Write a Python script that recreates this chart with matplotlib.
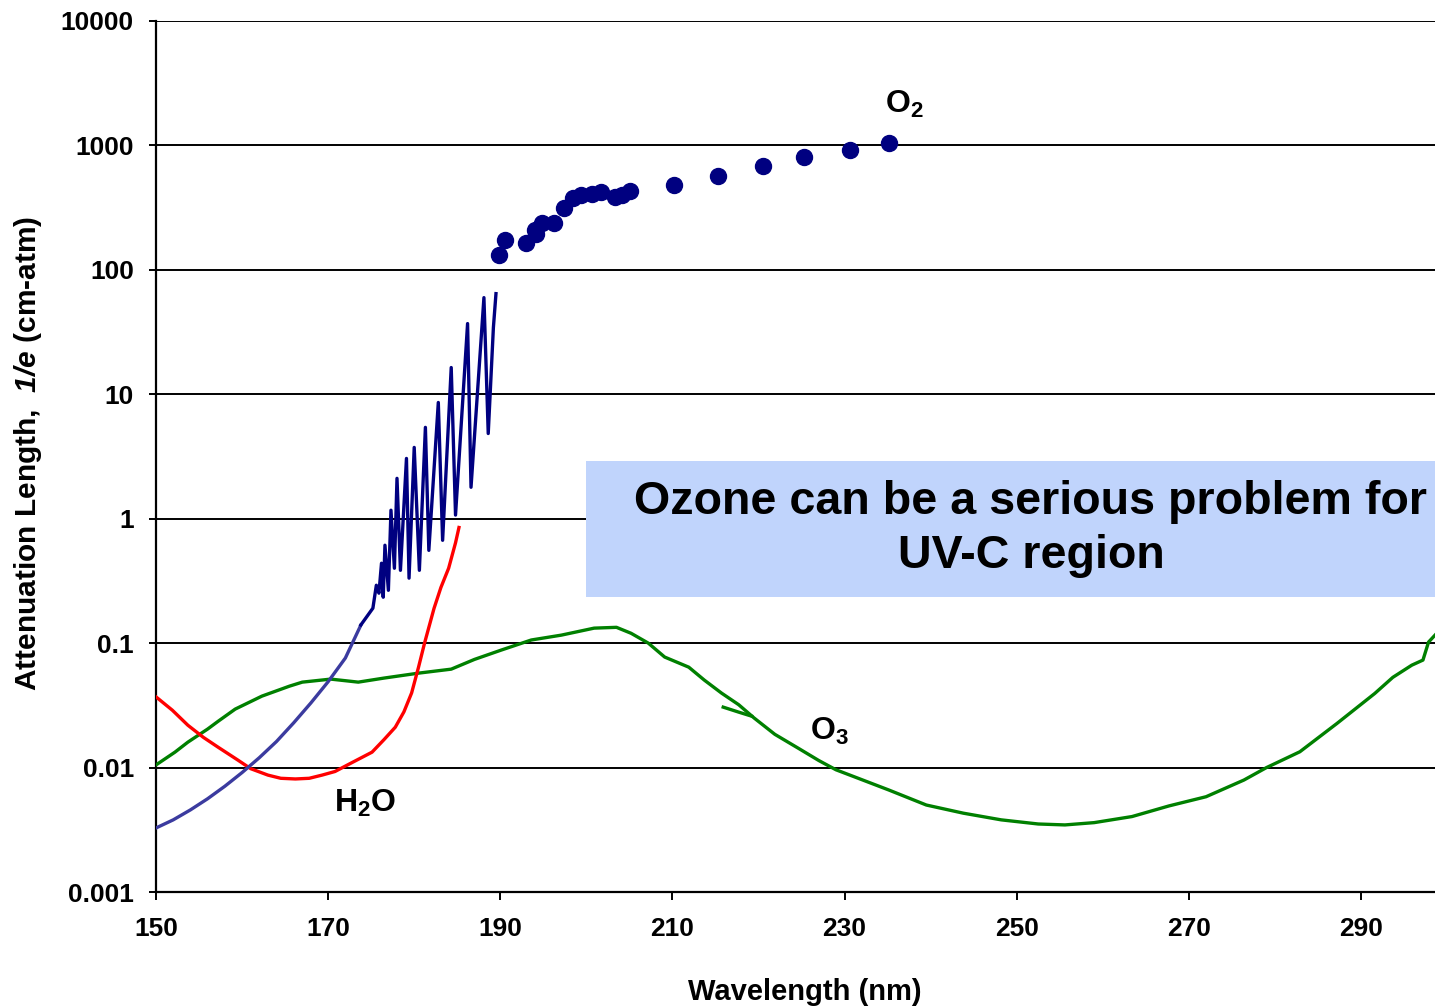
import matplotlib
matplotlib.use("Agg")
import matplotlib.pyplot as plt
from matplotlib.patches import Rectangle
from matplotlib.ticker import FixedLocator, FixedFormatter, NullLocator

plt.rcParams['font.family'] = ['Liberation Sans', 'DejaVu Sans']
plt.rcParams['font.weight'] = 'bold'
plt.rcParams['mathtext.fontset'] = 'custom'
plt.rcParams['mathtext.rm'] = 'Liberation Sans:bold'
plt.rcParams['mathtext.bf'] = 'Liberation Sans:bold'
plt.rcParams['mathtext.it'] = 'Liberation Sans:italic:bold'
plt.rcParams['mathtext.bfit'] = 'Liberation Sans:italic:bold'

# ---------------- data ----------------
# O2 continuum (lower, smooth part)
o2_low_nm = [150.0, 152.0, 154.0, 156.0, 158.0, 160.0, 162.0, 164.0, 166.0, 168.0,
             170.0, 172.0, 173.8]
o2_low_val = [0.00327, 0.0038, 0.00457, 0.00562, 0.00708, 0.00912, 0.0120, 0.0162, 0.0229, 0.0331,
              0.0490, 0.0759, 0.1396]

# O2 Schumann-Runge band region (oscillating)
o2_band_nm = [173.8, 175.2, 175.6, 175.9, 176.2, 176.4, 176.6, 177.0, 177.3, 177.7,
              178.0, 178.4, 179.1, 179.4, 180.0, 180.6, 181.3, 181.7, 182.8, 183.3,
              184.3, 184.8, 186.2, 186.6, 188.1, 188.6, 189.2, 189.5]
o2_band_val = [0.140, 0.191, 0.292, 0.252, 0.439, 0.234, 0.612, 0.266, 1.17, 0.400,
               2.11, 0.385, 3.05, 0.333, 3.74, 0.385, 5.42, 0.557, 8.59, 0.671,
               16.4, 1.07, 37.0, 1.79, 59.8, 4.84, 34.4, 64.4]

# O2 measured points
o2_pts_nm = [189.9, 190.5, 193.0, 194.0, 194.2, 194.8, 196.2, 197.4, 198.5, 199.4,
             200.6, 201.7, 203.3, 204.1, 205.1, 210.2, 215.3, 220.5, 225.3, 230.6, 235.2]
o2_pts_val = [132, 175, 165, 210, 195, 239, 239, 316, 380, 401,
              409, 425, 387, 401, 433, 483, 571, 686, 811, 922, 1050]

# H2O
h2o_nm = [150.0, 151.9, 153.7, 155.5, 157.2, 159.5, 161.0, 163.0, 164.5, 166.2,
          167.8, 169.3, 170.8, 172.7, 175.1, 176.5, 177.8, 178.8, 179.7, 180.5,
          181.2, 182.3, 183.1, 184.0, 184.8, 185.2]
h2o_val = [0.037, 0.0289, 0.0219, 0.0175, 0.0146, 0.0115, 0.0098, 0.0087, 0.0082, 0.0081,
           0.0082, 0.0087, 0.0093, 0.0109, 0.0133, 0.0168, 0.0211, 0.028, 0.0398, 0.064,
           0.10, 0.19, 0.28, 0.40, 0.64, 0.85]

# O3
o3_nm = [150.0, 152.2, 153.7, 156.0, 157.2, 159.2, 162.3, 165.5, 167.0, 170.3,
         173.5, 176.5, 180.5, 184.3, 187.0, 190.1, 193.6, 197.1, 200.9, 203.5,
         205.2, 207.2, 209.1, 211.9, 213.7, 215.7, 217.7, 219.5, 221.9, 224.7,
         227.0, 229.0, 231.0, 235.15, 239.5, 243.8, 248.2, 252.5, 255.6, 259.0,
         263.4, 267.7, 272.0, 276.4, 279.0, 282.9, 287.2, 291.6, 293.7, 295.9,
         297.2, 297.85, 298.8]
o3_val = [0.0105, 0.0133, 0.0160, 0.0204, 0.0235, 0.0295, 0.0375, 0.0451, 0.0486, 0.0514,
          0.0486, 0.0524, 0.0574, 0.0618, 0.074, 0.0879, 0.106, 0.116, 0.132, 0.134,
          0.120, 0.100, 0.0773, 0.0641, 0.0505, 0.0397, 0.0320, 0.0250, 0.0185, 0.0142,
          0.0114, 0.0096, 0.0085, 0.0066, 0.0050, 0.0043, 0.0038, 0.00352, 0.00346, 0.00361,
          0.00404, 0.00492, 0.00583, 0.00794, 0.00998, 0.0134, 0.0226, 0.0394, 0.0531, 0.0665,
          0.0731, 0.102, 0.120]
# overlapping O3 data segment
o3b_nm = [215.9, 217.7, 219.2]
o3b_val = [0.0306, 0.0279, 0.0259]

y_ticks = [0.001, 0.01, 0.1, 1, 10, 100, 1000, 10000]
y_labels = ['0.001', '0.01', '0.1', '1', '10', '100', '1000', '10000']
x_ticks = [150, 170, 190, 210, 230, 250, 270, 290]
x_labels = ['150', '170', '190', '210', '230', '250', '270', '290']

# ---------------- figure ----------------
W, H = 1435, 1008
fig = plt.figure(figsize=(W / 100, H / 100), dpi=100)
ax = fig.add_axes([156 / W, (H - 892) / H, (W - 156) / W, (892 - 21) / H])
ax.set_yscale('log')
ax.set_xlim(150, 298.6)
ax.set_ylim(0.001, 10000)

for yv in y_ticks:
    ax.axhline(yv, color='black', lw=1.4, zorder=1)

lw = 2.4
ax.plot(o3_nm, o3_val, color='#008000', lw=lw, zorder=3)
ax.plot(o3b_nm, o3b_val, color='#008000', lw=lw, zorder=3)
ax.plot(h2o_nm, h2o_val, color='#FF0000', lw=lw, zorder=3)
ax.plot(o2_low_nm, o2_low_val, color='#3B3B9F', lw=lw, zorder=3)
ax.plot(o2_band_nm, o2_band_val, color='#000080', lw=lw, zorder=3)
ax.plot(o2_pts_nm, o2_pts_val, 'o', color='#000080', ms=11.5, mec='#000080', zorder=4)

ax.yaxis.set_major_locator(FixedLocator(y_ticks))
ax.yaxis.set_major_formatter(FixedFormatter(y_labels))
ax.yaxis.set_minor_locator(NullLocator())
ax.xaxis.set_major_locator(FixedLocator(x_ticks))
ax.xaxis.set_major_formatter(FixedFormatter(x_labels))
ax.tick_params(axis='y', direction='out', length=5, width=1.4, pad=11, labelsize=19)
ax.tick_params(axis='x', direction='out', length=6, width=1.4, pad=12, labelsize=19)
for lab in ax.get_xticklabels() + ax.get_yticklabels():
    lab.set_fontweight('bold')

ax.spines['right'].set_visible(False)
ax.spines['top'].set_visible(False)
ax.spines['left'].set_linewidth(1.6)
ax.spines['bottom'].set_linewidth(1.6)

# species labels
ax.text(234.7, 1820, r'$\mathbf{O_2}$', fontsize=23, ha='left', va='baseline')
ax.text(170.7, 0.00438, r'$\mathbf{H_2O}$', fontsize=23, ha='left', va='baseline')
ax.text(226.0, 0.0166, r'$\mathbf{O_3}$', fontsize=23, ha='left', va='baseline')

# axis labels
fig.text(805 / W, (H - 1000) / H, 'Wavelength (nm)', fontsize=21, fontweight='bold',
         ha='center', va='baseline')
fig.text(28 / W, (H - 453) / H, r'Attenuation Length,  $\mathbfit{1/e}$ (cm-atm)',
         fontsize=21.5, fontweight='bold', rotation=90, ha='center', va='center')

# annotation box
fig.patches.append(Rectangle((586 / W, (H - 597) / H), (1482 - 586) / W, (597 - 461) / H,
                             transform=fig.transFigure, facecolor='#C0D4FC',
                             edgecolor='none', zorder=5))
fig.text(1031 / W, (H - 529) / H, 'Ozone can be a serious problem for\nUV-C region',
         fontsize=33.6, fontweight='bold', ha='center', va='center', linespacing=1.32,
         zorder=6)

fig.savefig('out.png', dpi=100)
